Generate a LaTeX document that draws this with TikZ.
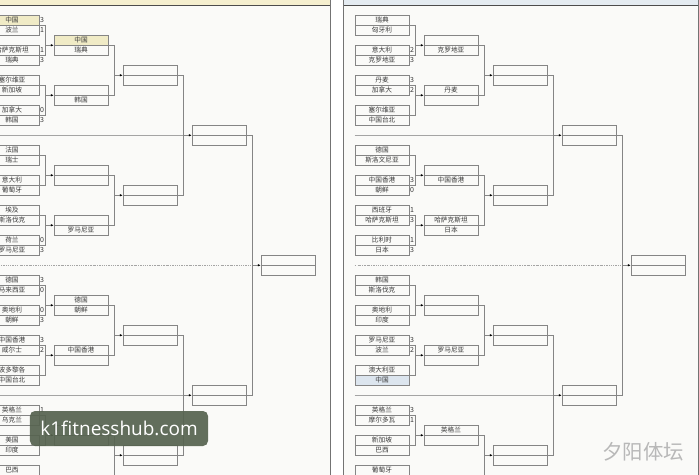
\documentclass[tikz,border=0pt]{standalone}
\usepackage{fontspec}
\newfontfamily\cjk{Noto Sans CJK SC}
\newfontfamily\markfont{Open Sans}
\usetikzlibrary{arrows.meta}

\definecolor{paper}{HTML}{FAFAF8}
\definecolor{rule}{HTML}{858585}
\definecolor{ink}{HTML}{3A3A3A}
\definecolor{hiY}{HTML}{F0EBC6}
\definecolor{hiB}{HTML}{DCE5EE}
\definecolor{headY}{HTML}{F5EFCF}
\definecolor{headB}{HTML}{E4EBF1}
\definecolor{badge}{HTML}{56634F}

\tikzset{
  cell/.style={draw=rule, line width=0.8pt, minimum width=27mm, minimum height=5mm,
    inner sep=0pt, text=ink, font=\cjk\fontsize{9.5}{10}\selectfont},
  score/.style={anchor=west, inner sep=0.4mm, text=ink, font=\cjk\fontsize{10}{10}\selectfont},
  link/.style={draw=rule, line width=0.8pt},
  feed/.style={link, -{Latex[length=1.4mm, width=1.2mm, color=black]}},
  sepline/.style={draw=rule!75, line width=0.6pt},
}

% two boxes into one: bracket and arrow
\newcommand{\joinpair}[3]{%
  \draw[link] (#1.south east) -- ++(6,0) |- (#2.south east);
  \draw[feed] ([xshift=3mm]#1.south east |- #3.south west) -- (#3.south west);
}

% one half of the draw (#1 name prefix, #2 x offset, #3 pairs, #4 second round)
\newcommand{\drawpanel}[4]{%
  % first round, with scores
  \foreach \row/\ta/\tb/\sa/\sb/\fa/\fb [count=\k] in {#3} {
    \node[cell, fill=\fa] (#1t\k-a) at (#2+382, 20+10*\row) {\ta};
    \node[cell, fill=\fb] (#1t\k-b) at (#2+382, 30+10*\row) {\tb};
    \node[score] (#1s\k-a) at (#1t\k-a.east) {\sa};
    \node[score] (#1s\k-b) at (#1t\k-b.east) {\sb};
  }
  % second round
  \foreach \row/\wa/\wb/\fa [count=\k] in {#4} {
    \node[cell, fill=\fa] (#1b\k-a) at (#2+451, 20+10*\row) {\wa};
    \node[cell] (#1b\k-b) at (#2+451, 30+10*\row) {\wb};
  }
  % later rounds, still empty
  \foreach \row [count=\k] in {5,17,31,43} {
    \node[cell] (#1c\k-a) at (#2+520, 20+10*\row) {};
    \node[cell] (#1c\k-b) at (#2+520, 30+10*\row) {};
  }
  \foreach \row [count=\k] in {11,37} {
    \node[cell] (#1d\k-a) at (#2+589, 20+10*\row) {};
    \node[cell] (#1d\k-b) at (#2+589, 30+10*\row) {};
  }
  \node[cell] (#1f-a) at (#2+658, 260) {};
  \node[cell] (#1f-b) at (#2+658, 270) {};
  % separators
  \draw[sepline] (#1t1-a.west |- #1d1-a.south) -- ([xshift=3mm]#1c1-a.south east |- #1d1-a.south);
  \draw[sepline, dash pattern=on 2.5pt off 1.5pt on 1pt off 1.5pt]
    (#1t1-a.west |- #1f-a.south) -- ([xshift=3mm]#1d1-a.south east |- #1f-a.south);
  \draw[sepline] (#1t1-a.west |- #1d2-a.south) -- ([xshift=3mm]#1c3-a.south east |- #1d2-a.south);
  % brackets
  \foreach \j in {1,...,8} {
    \pgfmathtruncatemacro\ia{2*\j-1}
    \pgfmathtruncatemacro\ib{2*\j}
    \joinpair{#1t\ia-a}{#1t\ib-a}{#1b\j-a}
  }
  \foreach \j in {1,...,4} {
    \pgfmathtruncatemacro\ia{2*\j-1}
    \pgfmathtruncatemacro\ib{2*\j}
    \joinpair{#1b\ia-a}{#1b\ib-a}{#1c\j-a}
  }
  \foreach \j in {1,2} {
    \pgfmathtruncatemacro\ia{2*\j-1}
    \pgfmathtruncatemacro\ib{2*\j}
    \joinpair{#1c\ia-a}{#1c\ib-a}{#1d\j-a}
  }
  \joinpair{#1d1-a}{#1d2-a}{#1f-a}
}

\begin{document}
\begin{tikzpicture}[x=0.5mm, y=-0.5mm]
\useasboundingbox (0,0) rectangle (699,475);
\clip (0,0) rectangle (699,475);
% paper and frames
\fill[paper] (0,0) rectangle (699,475);
\fill[white] (330,0) rectangle (343,475);
\fill[headY] (0,0) rectangle (330,5);
\fill[headB] (343,0) rectangle (698,5);
\draw[black!70, line width=0.8pt] (0,5) -- (330,5) (343,5) -- (698,5);
\draw[black!55, line width=0.8pt] (330,0) -- (330,475) (343,0) -- (343,475) (698,0) -- (698,475);

% left half
\drawpanel{L}{-370}{
  0/中国/波兰/3/1/hiY/none,
  3/哈萨克斯坦/瑞典/1/3/none/none,
  6/塞尔维亚/新加坡/{}/{}/none/none,
  9/加拿大/韩国/0/3/none/none,
  13/法国/瑞士/{}/{}/none/none,
  16/意大利/葡萄牙/{}/{}/none/none,
  19/埃及/斯洛伐克/{}/{}/none/none,
  22/荷兰/罗马尼亚/0/3/none/none,
  26/德国/马来西亚/3/0/none/none,
  29/奥地利/朝鲜/0/3/none/none,
  32/中国香港/威尔士/3/2/none/none,
  35/波多黎各/中国台北/{}/{}/none/none,
  39/英格兰/乌克兰/1/{}/none/none,
  42/美国/印度/{}/{}/none/none,
  45/巴西/{}/{}/{}/none/none,
  48/{}/{}/{}/{}/none/none}{
  2/中国/瑞典/hiY,
  7/{}/韩国/none,
  15/{}/{}/none,
  20/{}/罗马尼亚/none,
  28/德国/朝鲜/none,
  33/中国香港/{}/none,
  41/{}/{}/none,
  46/{}/{}/none}

% right half
\drawpanel{R}{0}{
  0/瑞典/匈牙利/{}/{}/none/none,
  3/意大利/克罗地亚/2/3/none/none,
  6/丹麦/加拿大/3/2/none/none,
  9/塞尔维亚/中国台北/{}/{}/none/none,
  13/德国/斯洛文尼亚/{}/{}/none/none,
  16/中国香港/朝鲜/3/0/none/none,
  19/西班牙/哈萨克斯坦/1/3/none/none,
  22/比利时/日本/1/3/none/none,
  26/韩国/斯洛伐克/{}/{}/none/none,
  29/奥地利/印度/{}/{}/none/none,
  32/罗马尼亚/波兰/3/2/none/none,
  35/澳大利亚/中国/{}/{}/none/hiB,
  39/英格兰/摩尔多瓦/3/1/none/none,
  42/新加坡/巴西/{}/{}/none/none,
  45/葡萄牙/{}/{}/{}/none/none,
  48/{}/{}/{}/{}/none/none}{
  2/{}/克罗地亚/none,
  7/丹麦/{}/none,
  15/{}/中国香港/none,
  20/哈萨克斯坦/日本/none,
  28/{}/{}/none,
  33/罗马尼亚/{}/none,
  41/英格兰/{}/none,
  46/{}/{}/none}

% watermarks
\node[fill=badge, fill opacity=0.92, text opacity=1, rounded corners=2.5mm,
  minimum width=89mm, minimum height=17.5mm, text=white,
  font=\markfont\fontsize{27}{29}\selectfont] (badge) at (119,428.5) {k1fitnesshub.com};
\node[text=black!28, font=\cjk\fontsize{29}{31}\selectfont] (mark) at (643,452) {夕阳体坛};
\end{tikzpicture}
\end{document}
